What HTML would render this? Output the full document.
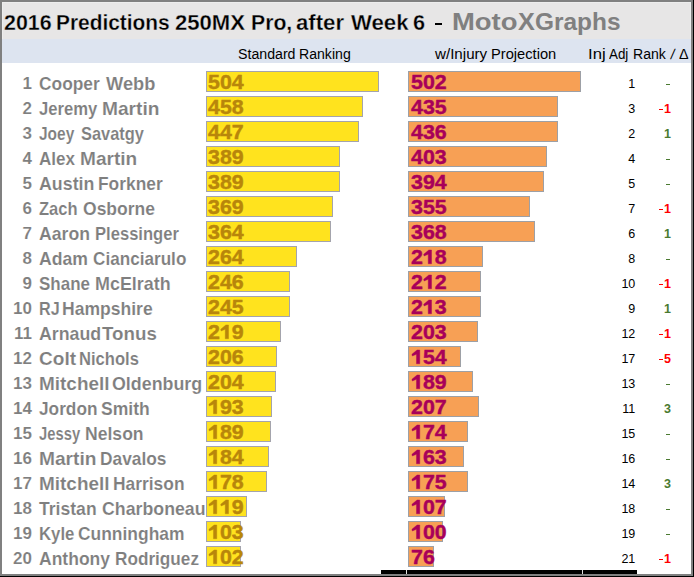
<!DOCTYPE html>
<html><head><meta charset="utf-8"><style>
*{margin:0;padding:0;box-sizing:border-box}
html,body{width:694px;height:577px;overflow:hidden}
body{background:#000;position:relative;font-family:"Liberation Sans",sans-serif}
.a{position:absolute;white-space:nowrap}
.t{position:absolute;white-space:nowrap;line-height:1;transform-origin:0 0}
.bar{position:absolute;height:21px}
.y{background:#FFE31E;border:1px solid #A4A4AC}
.o{background:#F7A055;border:1px solid #9DA0A6}
.v{position:absolute;font-weight:bold;font-size:20px;line-height:1;white-space:nowrap;-webkit-text-stroke:0.4px currentColor}
.vy{color:#B8860B}.vo{color:#A8005A}
.nm{font-weight:bold;font-size:17px;color:#7F7F7F;-webkit-text-stroke:0.12px #fff}
.rk{font-size:12.5px;color:#000}
.dl{font-size:12.5px;font-weight:bold}
</style></head><body>

<div class="a" style="left:0;top:0;width:693px;height:576px;border:2px solid #808080;background:#fff"></div>
<div class="a" style="left:2px;top:2px;width:689px;height:37px;background:#E7E6E6;border-top:1px solid #EDEDED;border-left:1px solid #EDEDED;border-right:1px solid #EDEDED"></div>
<div class="a" style="left:2px;top:39px;width:689px;height:24px;background:#DDE4F0"></div>
<div class="a" style="left:381px;top:570px;width:256px;height:4px;background:#000"></div>
<div class="a" style="left:406px;top:570px;width:1px;height:4px;background:#E0E0E0"></div>
<div class="a" style="left:582px;top:570px;width:1px;height:4px;background:#E0E0E0"></div>
<div class="t " style="left:3.67px;top:12.38px;font-size:22px;transform:scaleX(0.9735);font-weight:bold;color:#000;-webkit-text-stroke:0.3px #E7E6E6">2016</div>
<div class="t " style="left:56.08px;top:12.38px;font-size:22px;transform:scaleX(0.9489);font-weight:bold;color:#000;-webkit-text-stroke:0.3px #E7E6E6">Predictions</div>
<div class="t " style="left:174.75px;top:12.38px;font-size:22px;transform:scaleX(1.0036);font-weight:bold;color:#000;-webkit-text-stroke:0.3px #E7E6E6">250MX</div>
<div class="t " style="left:250.66px;top:12.38px;font-size:22px;transform:scaleX(0.9635);font-weight:bold;color:#000;-webkit-text-stroke:0.3px #E7E6E6">Pro,</div>
<div class="t " style="left:296.35px;top:12.38px;font-size:22px;transform:scaleX(1.0065);font-weight:bold;color:#000;-webkit-text-stroke:0.3px #E7E6E6">after</div>
<div class="t " style="left:350.60px;top:12.38px;font-size:22px;transform:scaleX(1.0070);font-weight:bold;color:#000;-webkit-text-stroke:0.3px #E7E6E6">Week</div>
<div class="t " style="left:413.26px;top:12.38px;font-size:22px;transform:scaleX(0.9860);font-weight:bold;color:#000;-webkit-text-stroke:0.3px #E7E6E6">6</div>
<div class="a" style="left:435px;top:23px;width:7px;height:2px;background:#000"></div>
<div class="t " style="left:452.19px;top:9.68px;font-size:24px;transform:scaleX(1.1434);font-weight:bold;color:#808080">Moto</div>
<div class="t " style="left:518.14px;top:9.68px;font-size:24px;transform:scaleX(1.0516);font-weight:bold;color:#808080">X</div>
<div class="t " style="left:535.48px;top:9.68px;font-size:24px;transform:scaleX(1.0171);font-weight:bold;color:#808080">Graphs</div>
<div class="t " style="left:237.64px;top:47.15px;font-size:14px;transform:scaleX(1.0118);color:#000">Standard</div>
<div class="t " style="left:299.04px;top:47.15px;font-size:14px;transform:scaleX(1.0071);color:#000">Ranking</div>
<div class="t " style="left:435.20px;top:47.15px;font-size:14px;transform:scaleX(1.0813);color:#000">w/Injury</div>
<div class="t " style="left:491.49px;top:47.15px;font-size:14px;transform:scaleX(1.0473);color:#000">Projection</div>
<div class="t " style="left:588.21px;top:47.15px;font-size:14px;transform:scaleX(1.1920);color:#000">Inj</div>
<div class="t " style="left:609.30px;top:47.15px;font-size:14px;transform:scaleX(0.9558);color:#000">Adj</div>
<div class="t " style="left:633.24px;top:47.15px;font-size:14px;transform:scaleX(1.0048);color:#000">Rank</div>
<div class="t " style="left:679.49px;top:47.15px;font-size:14px;transform:scaleX(1.0235);color:#000">&#916;</div>
<div class="t" style="left:672.4px;top:47.15px;font-size:14px;color:#000;transform:skewX(-10deg)">/</div>
<div class="t nm" style="right:662px;top:74.61px;font-size:17px">1</div>
<div class="t nm" style="left:38.68px;top:74.76px;font-size:18px;transform:scaleX(0.9645);">Cooper</div>
<div class="t nm" style="left:105.60px;top:74.76px;font-size:18px;transform:scaleX(1.0146);">Webb</div>
<div class="bar y" style="left:206px;top:71px;width:173px"></div>
<div class="bar o" style="left:408px;top:71px;width:173px"></div>
<div class="t v vy" style="left:208.40px;top:72.07px;font-size:20px;transform:scaleX(1.0700);">504</div>
<div class="t v vo" style="left:410.60px;top:72.07px;font-size:20px;transform:scaleX(1.0700);">502</div>
<div class="t rk" style="right:58.70px;top:78.42px">1</div>
<div class="a" style="left:666px;top:84px;width:4px;height:1px;background:#4A7A30"></div>
<div class="t nm" style="right:662px;top:99.61px;font-size:17px">2</div>
<div class="t nm" style="left:39.17px;top:99.76px;font-size:18px;transform:scaleX(0.9259);">Jeremy</div>
<div class="t nm" style="left:102.27px;top:99.76px;font-size:18px;transform:scaleX(1.0647);">Martin</div>
<div class="bar y" style="left:206px;top:96px;width:157px"></div>
<div class="bar o" style="left:408px;top:96px;width:150px"></div>
<div class="t v vy" style="left:208.40px;top:97.07px;font-size:20px;transform:scaleX(1.0700);">458</div>
<div class="t v vo" style="left:410.60px;top:97.07px;font-size:20px;transform:scaleX(1.0700);">435</div>
<div class="t rk" style="right:58.70px;top:103.42px">3</div>
<div class="a" style="left:659px;top:109px;width:4px;height:1.2px;background:#FF0000"></div>
<div class="t dl" style="right:23.00px;top:103.42px;color:#FF0000">1</div>
<div class="t nm" style="right:662px;top:124.61px;font-size:17px">3</div>
<div class="t nm" style="left:39.19px;top:124.76px;font-size:18px;transform:scaleX(0.8593);">Joey</div>
<div class="t nm" style="left:80.64px;top:124.76px;font-size:18px;transform:scaleX(0.9114);">Savatgy</div>
<div class="bar y" style="left:206px;top:121px;width:153px"></div>
<div class="bar o" style="left:408px;top:121px;width:150px"></div>
<div class="t v vy" style="left:208.40px;top:122.07px;font-size:20px;transform:scaleX(1.0700);">447</div>
<div class="t v vo" style="left:410.60px;top:122.07px;font-size:20px;transform:scaleX(1.0700);">436</div>
<div class="t rk" style="right:58.70px;top:128.42px">2</div>
<div class="t dl" style="right:23.00px;top:128.42px;color:#4A7A30;font-weight:bold">1</div>
<div class="t nm" style="right:662px;top:149.61px;font-size:17px">4</div>
<div class="t nm" style="left:38.93px;top:149.76px;font-size:18px;transform:scaleX(0.9477);">Alex</div>
<div class="t nm" style="left:79.78px;top:149.76px;font-size:18px;transform:scaleX(1.0589);">Martin</div>
<div class="bar y" style="left:206px;top:146px;width:134px"></div>
<div class="bar o" style="left:408px;top:146px;width:139px"></div>
<div class="t v vy" style="left:208.40px;top:147.07px;font-size:20px;transform:scaleX(1.0700);">389</div>
<div class="t v vo" style="left:410.60px;top:147.07px;font-size:20px;transform:scaleX(1.0700);">403</div>
<div class="t rk" style="right:58.70px;top:153.42px">4</div>
<div class="a" style="left:666px;top:159px;width:4px;height:1px;background:#4A7A30"></div>
<div class="t nm" style="right:662px;top:174.61px;font-size:17px">5</div>
<div class="t nm" style="left:38.91px;top:174.76px;font-size:18px;transform:scaleX(0.9890);">Austin</div>
<div class="t nm" style="left:97.99px;top:174.76px;font-size:18px;transform:scaleX(0.9649);">Forkner</div>
<div class="bar y" style="left:206px;top:171px;width:134px"></div>
<div class="bar o" style="left:408px;top:171px;width:136px"></div>
<div class="t v vy" style="left:208.40px;top:172.07px;font-size:20px;transform:scaleX(1.0700);">389</div>
<div class="t v vo" style="left:410.60px;top:172.07px;font-size:20px;transform:scaleX(1.0700);">394</div>
<div class="t rk" style="right:58.70px;top:178.42px">5</div>
<div class="a" style="left:666px;top:184px;width:4px;height:1px;background:#4A7A30"></div>
<div class="t nm" style="right:662px;top:199.61px;font-size:17px">6</div>
<div class="t nm" style="left:38.94px;top:199.76px;font-size:18px;transform:scaleX(0.9185);">Zach</div>
<div class="t nm" style="left:82.77px;top:199.76px;font-size:18px;transform:scaleX(0.9732);">Osborne</div>
<div class="bar y" style="left:206px;top:196px;width:127px"></div>
<div class="bar o" style="left:408px;top:196px;width:122px"></div>
<div class="t v vy" style="left:208.40px;top:197.07px;font-size:20px;transform:scaleX(1.0700);">369</div>
<div class="t v vo" style="left:410.60px;top:197.07px;font-size:20px;transform:scaleX(1.0700);">355</div>
<div class="t rk" style="right:58.70px;top:203.42px">7</div>
<div class="a" style="left:659px;top:209px;width:4px;height:1.2px;background:#FF0000"></div>
<div class="t dl" style="right:23.00px;top:203.42px;color:#FF0000">1</div>
<div class="t nm" style="right:662px;top:224.61px;font-size:17px">7</div>
<div class="t nm" style="left:38.91px;top:224.76px;font-size:18px;transform:scaleX(0.9802);">Aaron</div>
<div class="t nm" style="left:94.65px;top:224.76px;font-size:18px;transform:scaleX(0.9218);">Plessinger</div>
<div class="bar y" style="left:206px;top:221px;width:125px"></div>
<div class="bar o" style="left:408px;top:221px;width:127px"></div>
<div class="t v vy" style="left:208.40px;top:222.07px;font-size:20px;transform:scaleX(1.0700);">364</div>
<div class="t v vo" style="left:410.60px;top:222.07px;font-size:20px;transform:scaleX(1.0700);">368</div>
<div class="t rk" style="right:58.70px;top:228.42px">6</div>
<div class="t dl" style="right:23.00px;top:228.42px;color:#4A7A30;font-weight:bold">1</div>
<div class="t nm" style="right:662px;top:249.61px;font-size:17px">8</div>
<div class="t nm" style="left:38.91px;top:249.76px;font-size:18px;transform:scaleX(0.9794);">Adam</div>
<div class="t nm" style="left:93.09px;top:249.76px;font-size:18px;transform:scaleX(0.9523);">Cianciarulo</div>
<div class="bar y" style="left:206px;top:246px;width:91px"></div>
<div class="bar o" style="left:408px;top:246px;width:75px"></div>
<div class="t v vy" style="left:208.40px;top:247.07px;font-size:20px;transform:scaleX(1.0700);">264</div>
<div class="t v vo" style="left:410.60px;top:247.07px;font-size:20px;transform:scaleX(1.0700);">2<svg width="11.123" height="13.76" viewBox="0 0 1139 1409" style="vertical-align:baseline;overflow:visible"><path d="M525 1409L525 440L125 615L90 430L580 0L840 0L840 1409Z" fill="currentColor" stroke="currentColor" stroke-width="41"/></svg>8</div>
<div class="t rk" style="right:58.70px;top:253.42px">8</div>
<div class="a" style="left:666px;top:259px;width:4px;height:1px;background:#4A7A30"></div>
<div class="t nm" style="right:662px;top:274.61px;font-size:17px">9</div>
<div class="t nm" style="left:38.93px;top:274.76px;font-size:18px;transform:scaleX(0.9434);">Shane</div>
<div class="t nm" style="left:94.56px;top:274.76px;font-size:18px;transform:scaleX(0.9953);">McElrath</div>
<div class="bar y" style="left:206px;top:271px;width:84px"></div>
<div class="bar o" style="left:408px;top:271px;width:73px"></div>
<div class="t v vy" style="left:208.40px;top:272.07px;font-size:20px;transform:scaleX(1.0700);">246</div>
<div class="t v vo" style="left:410.60px;top:272.07px;font-size:20px;transform:scaleX(1.0700);">2<svg width="11.123" height="13.76" viewBox="0 0 1139 1409" style="vertical-align:baseline;overflow:visible"><path d="M525 1409L525 440L125 615L90 430L580 0L840 0L840 1409Z" fill="currentColor" stroke="currentColor" stroke-width="41"/></svg>2</div>
<div class="t rk" style="right:58.70px;top:278.42px">10</div>
<div class="a" style="left:659px;top:284px;width:4px;height:1.2px;background:#FF0000"></div>
<div class="t dl" style="right:23.00px;top:278.42px;color:#FF0000">1</div>
<div class="t nm" style="right:662px;top:299.61px;font-size:17px">10</div>
<div class="t nm" style="left:38.78px;top:299.76px;font-size:18px;transform:scaleX(0.8976);">RJ</div>
<div class="t nm" style="left:61.98px;top:299.76px;font-size:18px;transform:scaleX(0.9742);">Hampshire</div>
<div class="bar y" style="left:206px;top:296px;width:84px"></div>
<div class="bar o" style="left:408px;top:296px;width:73px"></div>
<div class="t v vy" style="left:208.40px;top:297.07px;font-size:20px;transform:scaleX(1.0700);">245</div>
<div class="t v vo" style="left:410.60px;top:297.07px;font-size:20px;transform:scaleX(1.0700);">2<svg width="11.123" height="13.76" viewBox="0 0 1139 1409" style="vertical-align:baseline;overflow:visible"><path d="M525 1409L525 440L125 615L90 430L580 0L840 0L840 1409Z" fill="currentColor" stroke="currentColor" stroke-width="41"/></svg>3</div>
<div class="t rk" style="right:58.70px;top:303.42px">9</div>
<div class="t dl" style="right:23.00px;top:303.42px;color:#4A7A30;font-weight:bold">1</div>
<div class="t nm" style="right:662px;top:324.61px;font-size:17px">11</div>
<div class="t nm" style="left:38.91px;top:324.76px;font-size:18px;transform:scaleX(0.9878);">Arnaud</div>
<div class="t nm" style="left:102.14px;top:324.76px;font-size:18px;transform:scaleX(1.0415);">Tonus</div>
<div class="bar y" style="left:206px;top:321px;width:75px"></div>
<div class="bar o" style="left:408px;top:321px;width:70px"></div>
<div class="t v vy" style="left:208.40px;top:322.07px;font-size:20px;transform:scaleX(1.0700);">2<svg width="11.123" height="13.76" viewBox="0 0 1139 1409" style="vertical-align:baseline;overflow:visible"><path d="M525 1409L525 440L125 615L90 430L580 0L840 0L840 1409Z" fill="currentColor" stroke="currentColor" stroke-width="41"/></svg>9</div>
<div class="t v vo" style="left:410.60px;top:322.07px;font-size:20px;transform:scaleX(1.0700);">203</div>
<div class="t rk" style="right:58.70px;top:328.42px">12</div>
<div class="a" style="left:659px;top:334px;width:4px;height:1.2px;background:#FF0000"></div>
<div class="t dl" style="right:23.00px;top:328.42px;color:#FF0000">1</div>
<div class="t nm" style="right:662px;top:349.61px;font-size:17px">12</div>
<div class="t nm" style="left:38.61px;top:349.76px;font-size:18px;transform:scaleX(1.0588);">Colt</div>
<div class="t nm" style="left:79.15px;top:349.76px;font-size:18px;transform:scaleX(0.9222);">Nichols</div>
<div class="bar y" style="left:206px;top:346px;width:71px"></div>
<div class="bar o" style="left:408px;top:346px;width:53px"></div>
<div class="t v vy" style="left:208.40px;top:347.07px;font-size:20px;transform:scaleX(1.0700);">206</div>
<div class="t v vo" style="left:410.60px;top:347.07px;font-size:20px;transform:scaleX(1.0700);"><svg width="11.123" height="13.76" viewBox="0 0 1139 1409" style="vertical-align:baseline;overflow:visible"><path d="M525 1409L525 440L125 615L90 430L580 0L840 0L840 1409Z" fill="currentColor" stroke="currentColor" stroke-width="41"/></svg>54</div>
<div class="t rk" style="right:58.70px;top:353.42px">17</div>
<div class="a" style="left:659px;top:359px;width:4px;height:1.2px;background:#FF0000"></div>
<div class="t dl" style="right:23.00px;top:353.42px;color:#FF0000">5</div>
<div class="t nm" style="right:662px;top:374.61px;font-size:17px">13</div>
<div class="t nm" style="left:38.58px;top:374.76px;font-size:18px;transform:scaleX(1.0527);">Mitchell</div>
<div class="t nm" style="left:112.16px;top:374.76px;font-size:18px;transform:scaleX(0.9910);">Oldenburg</div>
<div class="bar y" style="left:206px;top:371px;width:70px"></div>
<div class="bar o" style="left:408px;top:371px;width:65px"></div>
<div class="t v vy" style="left:208.40px;top:372.07px;font-size:20px;transform:scaleX(1.0700);">204</div>
<div class="t v vo" style="left:410.60px;top:372.07px;font-size:20px;transform:scaleX(1.0700);"><svg width="11.123" height="13.76" viewBox="0 0 1139 1409" style="vertical-align:baseline;overflow:visible"><path d="M525 1409L525 440L125 615L90 430L580 0L840 0L840 1409Z" fill="currentColor" stroke="currentColor" stroke-width="41"/></svg>89</div>
<div class="t rk" style="right:58.70px;top:378.42px">13</div>
<div class="a" style="left:666px;top:384px;width:4px;height:1px;background:#4A7A30"></div>
<div class="t nm" style="right:662px;top:399.61px;font-size:17px">14</div>
<div class="t nm" style="left:39.16px;top:399.76px;font-size:18px;transform:scaleX(0.9590);">Jordon</div>
<div class="t nm" style="left:101.11px;top:399.76px;font-size:18px;transform:scaleX(0.9753);">Smith</div>
<div class="bar y" style="left:206px;top:396px;width:66px"></div>
<div class="bar o" style="left:408px;top:396px;width:71px"></div>
<div class="t v vy" style="left:208.40px;top:397.07px;font-size:20px;transform:scaleX(1.0700);"><svg width="11.123" height="13.76" viewBox="0 0 1139 1409" style="vertical-align:baseline;overflow:visible"><path d="M525 1409L525 440L125 615L90 430L580 0L840 0L840 1409Z" fill="currentColor" stroke="currentColor" stroke-width="41"/></svg>93</div>
<div class="t v vo" style="left:410.60px;top:397.07px;font-size:20px;transform:scaleX(1.0700);">207</div>
<div class="t rk" style="right:58.70px;top:403.42px">11</div>
<div class="t dl" style="right:23.00px;top:403.42px;color:#4A7A30;font-weight:bold">3</div>
<div class="t nm" style="right:662px;top:424.61px;font-size:17px">15</div>
<div class="t nm" style="left:39.19px;top:424.76px;font-size:18px;transform:scaleX(0.8221);">Jessy</div>
<div class="t nm" style="left:85.18px;top:424.76px;font-size:18px;transform:scaleX(0.9766);">Nelson</div>
<div class="bar y" style="left:206px;top:421px;width:65px"></div>
<div class="bar o" style="left:408px;top:421px;width:60px"></div>
<div class="t v vy" style="left:208.40px;top:422.07px;font-size:20px;transform:scaleX(1.0700);"><svg width="11.123" height="13.76" viewBox="0 0 1139 1409" style="vertical-align:baseline;overflow:visible"><path d="M525 1409L525 440L125 615L90 430L580 0L840 0L840 1409Z" fill="currentColor" stroke="currentColor" stroke-width="41"/></svg>89</div>
<div class="t v vo" style="left:410.60px;top:422.07px;font-size:20px;transform:scaleX(1.0700);"><svg width="11.123" height="13.76" viewBox="0 0 1139 1409" style="vertical-align:baseline;overflow:visible"><path d="M525 1409L525 440L125 615L90 430L580 0L840 0L840 1409Z" fill="currentColor" stroke="currentColor" stroke-width="41"/></svg>74</div>
<div class="t rk" style="right:58.70px;top:428.42px">15</div>
<div class="a" style="left:666px;top:434px;width:4px;height:1px;background:#4A7A30"></div>
<div class="t nm" style="right:662px;top:449.61px;font-size:17px">16</div>
<div class="t nm" style="left:38.57px;top:449.76px;font-size:18px;transform:scaleX(1.0647);">Martin</div>
<div class="t nm" style="left:100.40px;top:449.76px;font-size:18px;transform:scaleX(0.9627);">Davalos</div>
<div class="bar y" style="left:206px;top:446px;width:63px"></div>
<div class="bar o" style="left:408px;top:446px;width:56px"></div>
<div class="t v vy" style="left:208.40px;top:447.07px;font-size:20px;transform:scaleX(1.0700);"><svg width="11.123" height="13.76" viewBox="0 0 1139 1409" style="vertical-align:baseline;overflow:visible"><path d="M525 1409L525 440L125 615L90 430L580 0L840 0L840 1409Z" fill="currentColor" stroke="currentColor" stroke-width="41"/></svg>84</div>
<div class="t v vo" style="left:410.60px;top:447.07px;font-size:20px;transform:scaleX(1.0700);"><svg width="11.123" height="13.76" viewBox="0 0 1139 1409" style="vertical-align:baseline;overflow:visible"><path d="M525 1409L525 440L125 615L90 430L580 0L840 0L840 1409Z" fill="currentColor" stroke="currentColor" stroke-width="41"/></svg>63</div>
<div class="t rk" style="right:58.70px;top:453.42px">16</div>
<div class="a" style="left:666px;top:459px;width:4px;height:1px;background:#4A7A30"></div>
<div class="t nm" style="right:662px;top:474.61px;font-size:17px">17</div>
<div class="t nm" style="left:38.58px;top:474.76px;font-size:18px;transform:scaleX(1.0527);">Mitchell</div>
<div class="t nm" style="left:112.69px;top:474.76px;font-size:18px;transform:scaleX(0.9659);">Harrison</div>
<div class="bar y" style="left:206px;top:471px;width:61px"></div>
<div class="bar o" style="left:408px;top:471px;width:60px"></div>
<div class="t v vy" style="left:208.40px;top:472.07px;font-size:20px;transform:scaleX(1.0700);"><svg width="11.123" height="13.76" viewBox="0 0 1139 1409" style="vertical-align:baseline;overflow:visible"><path d="M525 1409L525 440L125 615L90 430L580 0L840 0L840 1409Z" fill="currentColor" stroke="currentColor" stroke-width="41"/></svg>78</div>
<div class="t v vo" style="left:410.60px;top:472.07px;font-size:20px;transform:scaleX(1.0700);"><svg width="11.123" height="13.76" viewBox="0 0 1139 1409" style="vertical-align:baseline;overflow:visible"><path d="M525 1409L525 440L125 615L90 430L580 0L840 0L840 1409Z" fill="currentColor" stroke="currentColor" stroke-width="41"/></svg>75</div>
<div class="t rk" style="right:58.70px;top:478.42px">14</div>
<div class="t dl" style="right:23.00px;top:478.42px;color:#4A7A30;font-weight:bold">3</div>
<div class="t nm" style="right:662px;top:499.61px;font-size:17px">18</div>
<div class="t nm" style="left:39.16px;top:499.76px;font-size:18px;transform:scaleX(0.9766);">Tristan</div>
<div class="t nm" style="left:101.66px;top:499.76px;font-size:18px;transform:scaleX(0.9864);">Charboneau</div>
<div class="bar y" style="left:206px;top:496px;width:41px"></div>
<div class="bar o" style="left:408px;top:496px;width:37px"></div>
<div class="t v vy" style="left:208.40px;top:497.07px;font-size:20px;transform:scaleX(1.0700);"><svg width="11.123" height="13.76" viewBox="0 0 1139 1409" style="vertical-align:baseline;overflow:visible"><path d="M525 1409L525 440L125 615L90 430L580 0L840 0L840 1409Z" fill="currentColor" stroke="currentColor" stroke-width="41"/></svg><svg width="11.123" height="13.76" viewBox="0 0 1139 1409" style="vertical-align:baseline;overflow:visible"><path d="M525 1409L525 440L125 615L90 430L580 0L840 0L840 1409Z" fill="currentColor" stroke="currentColor" stroke-width="41"/></svg>9</div>
<div class="t v vo" style="left:410.60px;top:497.07px;font-size:20px;transform:scaleX(1.0700);"><svg width="11.123" height="13.76" viewBox="0 0 1139 1409" style="vertical-align:baseline;overflow:visible"><path d="M525 1409L525 440L125 615L90 430L580 0L840 0L840 1409Z" fill="currentColor" stroke="currentColor" stroke-width="41"/></svg>07</div>
<div class="t rk" style="right:58.70px;top:503.42px">18</div>
<div class="a" style="left:666px;top:509px;width:4px;height:1px;background:#4A7A30"></div>
<div class="t nm" style="right:662px;top:524.61px;font-size:17px">19</div>
<div class="t nm" style="left:38.73px;top:524.76px;font-size:18px;transform:scaleX(0.9324);">Kyle</div>
<div class="t nm" style="left:78.37px;top:524.76px;font-size:18px;transform:scaleX(0.9681);">Cunningham</div>
<div class="bar y" style="left:206px;top:521px;width:35px"></div>
<div class="bar o" style="left:408px;top:521px;width:35px"></div>
<div class="t v vy" style="left:208.40px;top:522.07px;font-size:20px;transform:scaleX(1.0700);"><svg width="11.123" height="13.76" viewBox="0 0 1139 1409" style="vertical-align:baseline;overflow:visible"><path d="M525 1409L525 440L125 615L90 430L580 0L840 0L840 1409Z" fill="currentColor" stroke="currentColor" stroke-width="41"/></svg>03</div>
<div class="t v vo" style="left:410.60px;top:522.07px;font-size:20px;transform:scaleX(1.0700);"><svg width="11.123" height="13.76" viewBox="0 0 1139 1409" style="vertical-align:baseline;overflow:visible"><path d="M525 1409L525 440L125 615L90 430L580 0L840 0L840 1409Z" fill="currentColor" stroke="currentColor" stroke-width="41"/></svg>00</div>
<div class="t rk" style="right:58.70px;top:528.42px">19</div>
<div class="a" style="left:666px;top:534px;width:4px;height:1px;background:#4A7A30"></div>
<div class="t nm" style="right:662px;top:549.61px;font-size:17px">20</div>
<div class="t nm" style="left:38.91px;top:549.76px;font-size:18px;transform:scaleX(0.9730);">Anthony</div>
<div class="t nm" style="left:114.61px;top:549.76px;font-size:18px;transform:scaleX(0.9547);">Rodriguez</div>
<div class="bar y" style="left:206px;top:546px;width:35px"></div>
<div class="bar o" style="left:408px;top:546px;width:26px"></div>
<div class="t v vy" style="left:208.40px;top:547.07px;font-size:20px;transform:scaleX(1.0700);"><svg width="11.123" height="13.76" viewBox="0 0 1139 1409" style="vertical-align:baseline;overflow:visible"><path d="M525 1409L525 440L125 615L90 430L580 0L840 0L840 1409Z" fill="currentColor" stroke="currentColor" stroke-width="41"/></svg>02</div>
<div class="t v vo" style="left:410.60px;top:547.07px;font-size:20px;transform:scaleX(1.0700);">76</div>
<div class="t rk" style="right:58.70px;top:553.42px">21</div>
<div class="a" style="left:659px;top:559px;width:4px;height:1.2px;background:#FF0000"></div>
<div class="t dl" style="right:23.00px;top:553.42px;color:#FF0000">1</div>
</body></html>
